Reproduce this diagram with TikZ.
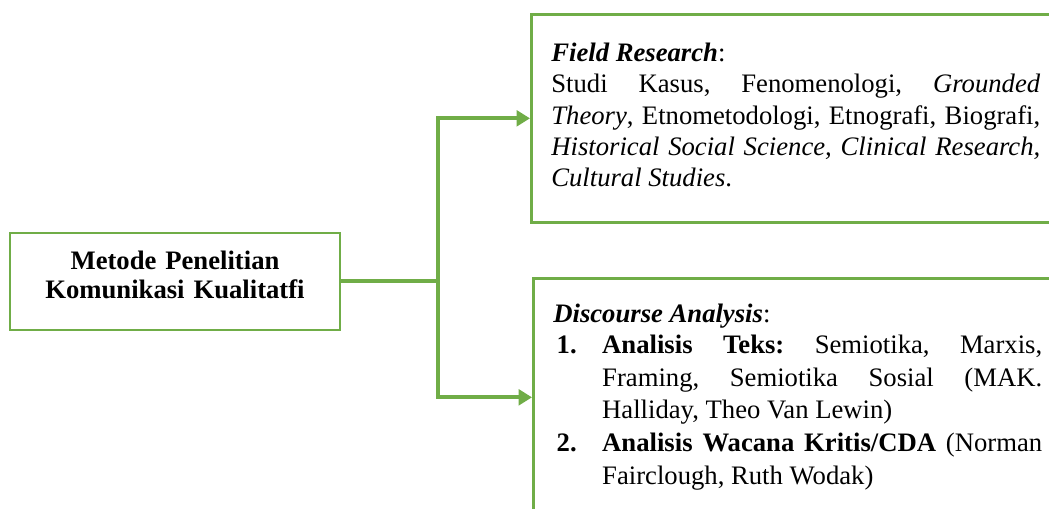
\documentclass[tikz,border=0pt]{standalone}
\usepackage{fontspec}
\setmainfont{Liberation Serif}
\usepackage{enumitem}
\usetikzlibrary{arrows.meta,positioning}
\definecolor{leafgreen}{HTML}{70AD47}
\hyphenpenalty=10000
\exhyphenpenalty=10000
\frenchspacing

\begin{document}
\begin{tikzpicture}[x=0.45pt, y=-0.45pt,
    box/.style={draw=leafgreen, line width=1.2pt, rectangle, inner xsep=9pt, inner ysep=0pt,
        font=\fontsize{12pt}{14pt}\selectfont},
    link/.style={draw=leafgreen, line width=1.8pt},
    tip/.style={-{Triangle[length=6pt,width=7pt]}}]
    \useasboundingbox (0,0) rectangle (1049,509);
    \clip (0,0) rectangle (1049,509);
    \node[box, align=center, text width=130.5pt, minimum height=43.6pt,
        font=\fontsize{12pt}{13pt}\selectfont\bfseries] (method) at (175,281.5)
        {Metode Penelitian\par Komunikasi Kualitatfi\par\kern6pt};
    \node[box, anchor=north west, text width=220pt, minimum height=93.6pt, align=justify] (field) at (530,13)
        {\textbf{\textit{Field Research}}:\par
        Studi Kasus, Fenomenologi, \textit{Grounded Theory}, Etnometodologi, Etnografi, Biografi,
        \textit{Historical Social Science, Clinical Research, Cultural Studies}.\par\kern3pt};
    \node[box, anchor=north west, text width=220pt, minimum height=107.1pt, align=justify,
        font=\fontsize{12pt}{14.75pt}\selectfont] (discourse) at (532,277)
        {\textbf{\textit{Discourse Analysis}}:\par\vspace{-1pt}
        \begin{enumerate}[label=\textbf{\arabic*.}, labelindent=1.5pt, labelwidth=20.5pt, labelsep=0pt,
            leftmargin=!, align=left, nosep]
            \item \textbf{Analisis Teks:} Semiotika, Marxis, Framing, Semiotika Sosial (MAK. Halliday, Theo Van Lewin)
            \item \textbf{Analisis Wacana Kritis/CDA} (Norman Fairclough, Ruth Wodak)
        \end{enumerate}};
    \draw[link] (method.east) -- ++(97,0) coordinate (fork);
    \draw[link, tip] (fork) |- (field.west);
    \draw[link, tip] (fork) |- (discourse.west);
\end{tikzpicture}
\end{document}
